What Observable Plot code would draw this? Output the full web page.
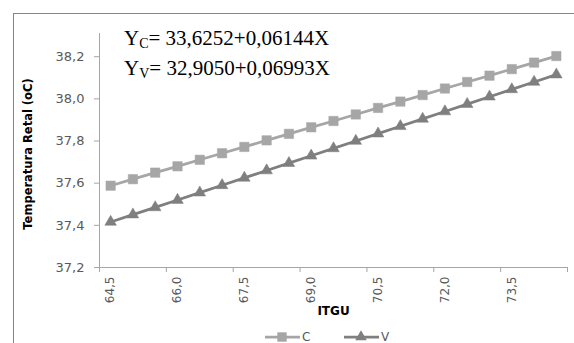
<!DOCTYPE html>
<html><head><meta charset="utf-8">
<script src="https://cdn.jsdelivr.net/npm/d3@7"></script>
<script src="https://cdn.jsdelivr.net/npm/@observablehq/plot@0.6"></script>
<style>
body{margin:0;background:#fff;}
#wrap{position:relative;width:574px;height:343px;overflow:hidden;font-family:"DejaVu Sans",sans-serif;background:#fff;}
#border{position:absolute;left:13px;top:13px;width:700px;height:500px;border-left:1px solid #868686;border-top:1px solid #868686;pointer-events:none;}
.eq{position:absolute;left:124px;font-family:"Liberation Serif","Times New Roman",serif;font-size:21px;color:#000;line-height:21px;white-space:nowrap;}
.eq sub{font-size:14px;vertical-align:-3px;line-height:0;}
.leg{position:absolute;display:flex;align-items:center;font-size:12px;color:#595959;height:14px;}
.leg svg{display:block;margin-right:2px;}
#chart svg{display:block;}
</style></head>
<body>
<div id="wrap">
  <div id="chart"></div>
  <div id="border"></div>
  <div class="eq" id="eq1" style="top:28px"></div>
  <div class="eq" id="eq2" style="top:58px"></div>
  <div id="legend"></div>
</div>
<script>
const seriesNames = ["C", "V"];
const seriesColors = ["#A6A6A6", "#7F7F7F"];
const seriesSymbols = ["square", "triangle"];
const equations = [["Y", "C", "= 33,6252+0,06144X"], ["Y", "V", "= 32,9050+0,06993X"]];

const itgu = [64.5, 65.0, 65.5, 66.0, 66.5, 67.0, 67.5, 68.0, 68.5, 69.0, 69.5,
              70.0, 70.5, 71.0, 71.5, 72.0, 72.5, 73.0, 73.5, 74.0, 74.5];
const cValues = [37.588, 37.619, 37.650, 37.680, 37.711, 37.742, 37.772, 37.803, 37.834, 37.865, 37.895,
                 37.926, 37.957, 37.987, 38.018, 38.049, 38.080, 38.110, 38.141, 38.172, 38.203];
const vValues = [37.416, 37.451, 37.485, 37.520, 37.555, 37.590, 37.625, 37.660, 37.695, 37.730, 37.765,
                 37.800, 37.835, 37.870, 37.905, 37.940, 37.975, 38.010, 38.045, 38.080, 38.115];

const xTickLabels = [64.5, 66.0, 67.5, 69.0, 70.5, 72.0, 73.5];
const xTickMarks = [64.25, 65.75, 67.25, 68.75, 70.25, 71.75, 73.25, 74.75];
const yTicks = [37.2, 37.4, 37.6, 37.8, 38.0, 38.2];
const xTitle = "ITGU";
const yTitle = "Temperatura Retal (oC)";

const data = [
  ...itgu.map((x, i) => ({x, y: cValues[i], s: "C"})),
  ...itgu.map((x, i) => ({x, y: vValues[i], s: "V"}))
];
const fmt = d => d3.format(".1f")(d).replace(".", ",");
const axisGray = "#A6A6A6";
const textGray = "#595959";

const chart = Plot.plot({
  width: 574, height: 343,
  marginLeft: 99, marginRight: 7, marginTop: 33, marginBottom: 76,
  x: {domain: [64.25, 74.75]},
  y: {domain: [37.2, 38.31]},
  color: {domain: seriesNames, range: seriesColors},
  symbol: {domain: seriesNames, range: seriesSymbols},
  style: {fontFamily: "DejaVu Sans", background: "transparent", overflow: "visible"},
  marks: [
    Plot.axisY({ticks: yTicks, tickSize: 5, tickPadding: 10, tickFormat: fmt, fontSize: 13, stroke: axisGray, fill: textGray, label: null}),
    Plot.axisX({ticks: xTickMarks, tickSize: 5, tickFormat: () => "", stroke: axisGray, label: null}),
    Plot.axisX({ticks: xTickLabels, tickSize: 0, tickPadding: 9, tickRotate: -90, tickFormat: fmt, fontSize: 12, fill: textGray, label: null}),
    Plot.ruleX([64.25], {stroke: axisGray}),
    Plot.ruleY([37.2], {stroke: axisGray}),
    Plot.line(data, {x: "x", y: "y", stroke: "s", strokeWidth: 2.75}),
    Plot.dot(data.filter(d => d.s === "C"), {x: "x", y: "y", symbol: "s", fill: "s", stroke: "s", r: 5.3, strokeWidth: 0.5}),
    Plot.dot(data.filter(d => d.s === "V"), {x: "x", y: "y", symbol: "s", fill: "s", stroke: "s", r: 4.3, strokeWidth: 0.5}),
    Plot.text([xTitle], {text: d => d, frameAnchor: "bottom", dy: 47, fontWeight: "bold", fontSize: 12, fill: "#000"}),
    Plot.text([yTitle], {text: d => d, frameAnchor: "left", textAnchor: "middle", rotate: -90, dx: -71, dy: 3.5, fontWeight: "bold", fontSize: 11.5, fill: "#000"})
  ]
});
document.getElementById("chart").appendChild(chart);

equations.forEach((e, i) => {
  const el = document.getElementById("eq" + (i + 1));
  el.innerHTML = "";
  el.append(e[0]);
  const sub = document.createElement("sub");
  sub.textContent = e[1];
  el.append(sub);
  el.append(e[2]);
});

const legendPos = [265, 344];
const legend = document.getElementById("legend");
seriesNames.forEach((name, i) => {
  const item = document.createElement("div");
  item.className = "leg";
  item.style.left = legendPos[i] + "px";
  item.style.top = "330px";
  const svg = d3.create("svg").attr("width", 35).attr("height", 14);
  svg.append("line").attr("x1", 0).attr("x2", 35).attr("y1", 7).attr("y2", 7)
    .attr("stroke", seriesColors[i]).attr("stroke-width", 2.75);
  const sym = seriesSymbols[i] === "square" ? d3.symbolSquare : d3.symbolTriangle;
  const r = seriesSymbols[i] === "square" ? 5.3 : 4.3;
  svg.append("path").attr("d", d3.symbol(sym, Math.PI * r * r)()).attr("transform", "translate(17,7)")
    .attr("fill", seriesColors[i]);
  item.appendChild(svg.node());
  const t = document.createElement("span");
  t.textContent = name;
  item.appendChild(t);
  legend.appendChild(item);
});
</script>
</body></html>
